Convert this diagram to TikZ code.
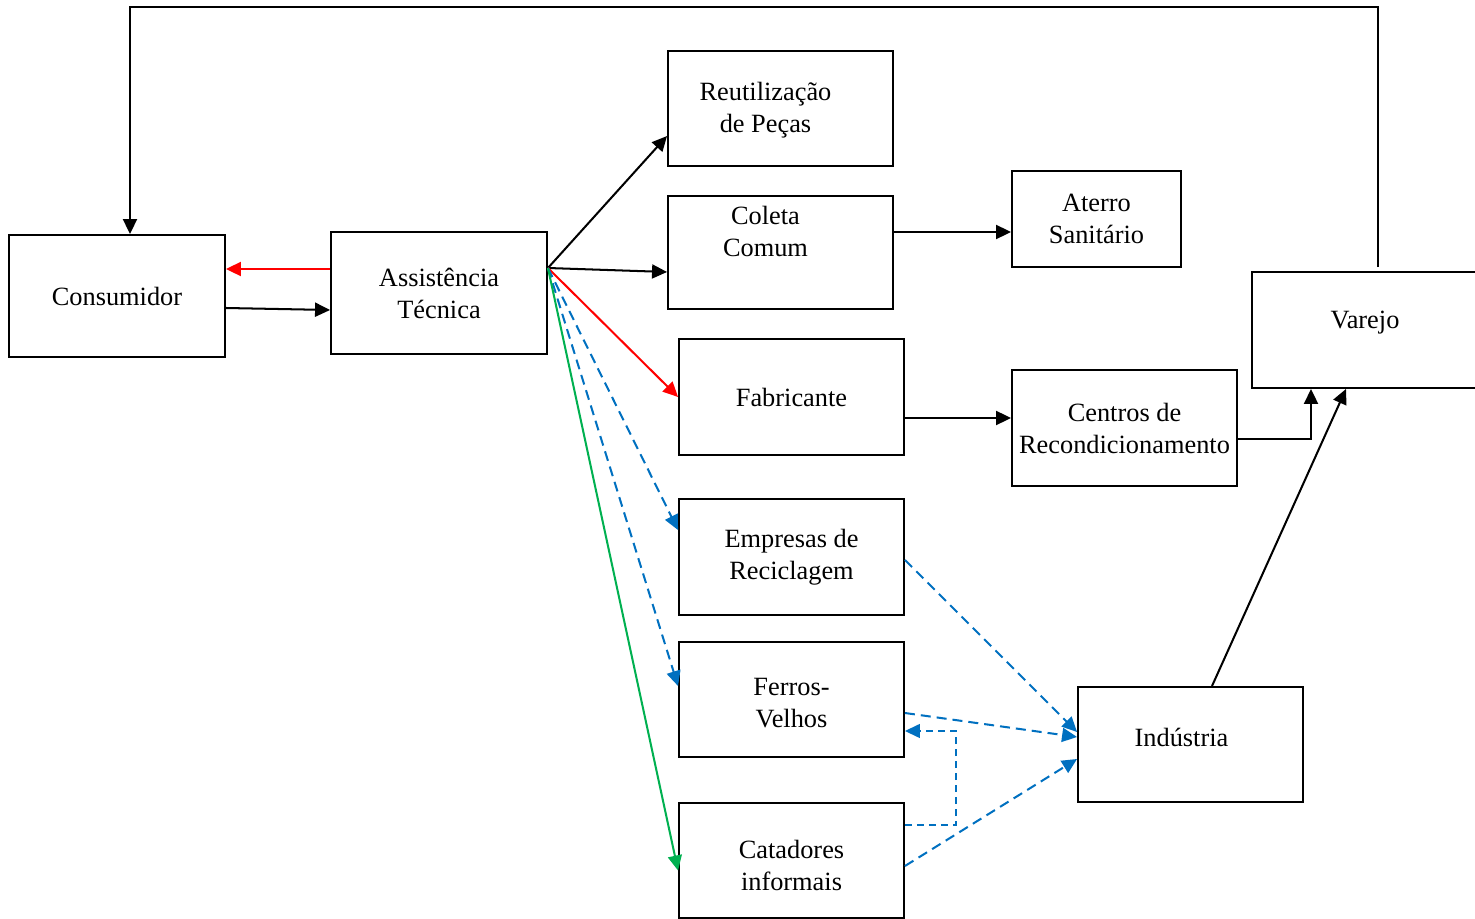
\documentclass[tikz,border=0pt]{standalone}
\usepackage{fontspec}
\setmainfont{Liberation Serif}
\usepackage{xcolor}
\usepackage{tikz}
\usetikzlibrary{arrows.meta, positioning}
\definecolor{flowRed}{RGB}{255, 0, 0}
\definecolor{flowBlue}{RGB}{0, 112, 192}
\definecolor{flowGreen}{RGB}{0, 176, 80}

\begin{document}
\begin{tikzpicture}[
  x=0.02cm, y=-0.02cm,
  box/.style={
    rectangle, draw=black, line width=1.1pt,
    minimum width=4.5cm, minimum height=2.3cm,
    align=center, inner sep=2pt,
    font=\fontsize{15}{18.2}\selectfont
  },
  txt/.style={align=center, font=\fontsize{15}{18.2}\selectfont},
  arr/.style={-{Triangle[length=0.3cm, width=0.28cm]}, line width=1.15pt},
  bluedash/.style={arr, color=flowBlue, dash pattern=on 0.2cm off 0.12cm},
  >=Stealth
]
\useasboundingbox (0,0) rectangle (1475,919);

% caixas
\node[box, minimum width=4.32cm, minimum height=2.44cm] (cons) at (117,296) {Consumidor};
\node[box, minimum width=4.32cm, minimum height=2.44cm] (assist) at (439,293) {Assistência\\Técnica};
\node[box, label={[txt, shift={(-0.3cm,-0.04cm)}]center:{Reutilização\\de Peças}}] (reut) at (780.5,108.5) {};
\node[box, minimum height=2.26cm, label={[txt, shift={(-0.3cm,0.42cm)}]center:{Coleta\\Comum}}] (coleta) at (780.5,252.5) {};
\node[box, minimum width=3.38cm, minimum height=1.92cm] (aterro) at (1096.5,219) {Aterro\\Sanitário};
\node[box, minimum height=2.32cm] (fabr) at (791.5,397) {Fabricante};
\node[box, minimum height=2.32cm] (centros) at (1124.5,428) {Centros de\\Recondicionamento};
\node[box, minimum width=4.52cm, minimum height=2.32cm, label={[txt, yshift=0.14cm]center:{Varejo}}] (varejo) at (1365,330) {};
\node[box, minimum height=2.32cm] (empresas) at (791.5,557) {Empresas de\\Reciclagem};
\node[box, label={[txt, yshift=-0.08cm]center:{Ferros-\\Velhos}}] (ferros) at (791.5,699.5) {};
\node[box, label={[txt, yshift=-0.1cm]center:{Catadores\\informais}}] (catadores) at (791.5,860.5) {};
\node[box, label={[txt, shift={(-0.18cm,0.14cm)}]center:{Indústria}}] (industria) at (1190.5,744.5) {};

\coordinate (loop) at (130,7);
\coordinate (hub) at ([yshift=0.5cm]assist.east);

% retorno ao consumidor
\draw[arr] ([shift={(13,-4)}]varejo.north) |- (loop) -- (loop |- cons.north);
\draw[arr, color=flowRed] ([yshift=0.48cm]assist.west) -- ([yshift=0.48cm]assist.west -| cons.east);
\draw[arr] ([yshift=-0.24cm]cons.east) -- ([yshift=-0.34cm]assist.west);

% saídas da assistência técnica
\draw[arr] (hub) -- ([yshift=-0.55cm]reut.west);
\draw[arr] (hub) -- ([yshift=-0.39cm]coleta.west);
\draw[arr, color=flowRed] (hub) -- (fabr.west);
\draw[bluedash] (hub) -- ([yshift=0.54cm]empresas.west);
\draw[bluedash] (hub) -- ([yshift=0.27cm]ferros.west);
\draw[arr, color=flowGreen] (hub) -- ([yshift=-0.2cm]catadores.west);

\draw[arr] ([yshift=0.41cm]coleta.east) -- ([yshift=0.41cm]coleta.east -| aterro.west);
\draw[arr] ([yshift=-0.42cm]fabr.east) -- ([yshift=-0.42cm]fabr.east -| centros.west);
\draw[arr] ([yshift=-0.22cm]centros.east) -| ([xshift=-1.08cm]varejo.south);
\draw[arr] ([xshift=0.43cm]industria.north) -- ([xshift=-0.38cm]varejo.south);

% reciclagem
\draw[bluedash] ([yshift=-0.06cm]empresas.east) -- ([yshift=0.25cm]industria.west);
\draw[bluedash] ([yshift=-0.27cm]ferros.east) -- ([yshift=0.15cm]industria.west);
\draw[bluedash] ([yshift=-0.11cm]catadores.east) -- ([yshift=-0.29cm]industria.west);
\draw[bluedash, line width=0.8pt, dash pattern=on 0.14cm off 0.1cm]
  ([yshift=0.71cm]catadores.east) -- ++(1.02cm,0) |- ([yshift=-0.63cm]ferros.east);

\end{tikzpicture}
\end{document}
